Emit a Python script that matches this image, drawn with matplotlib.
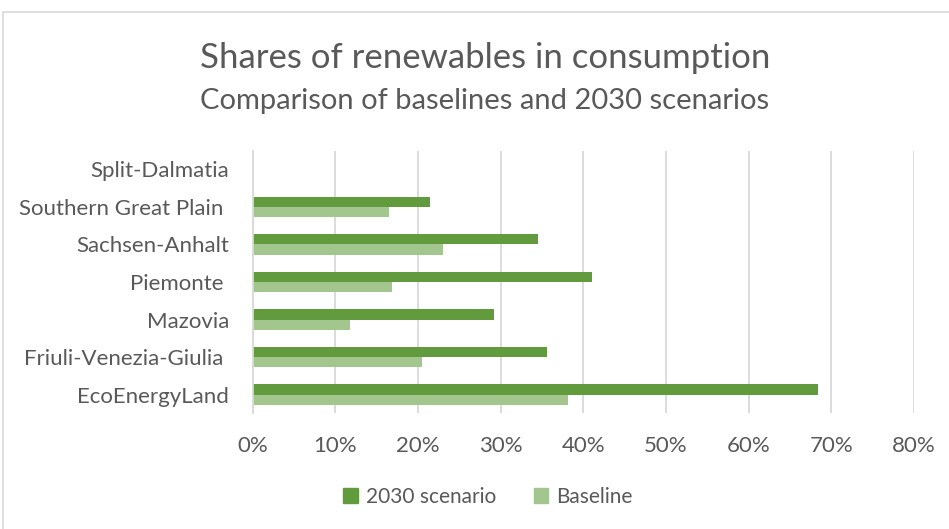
import numpy as np
import matplotlib
matplotlib.use("Agg")
import matplotlib.pyplot as plt
from matplotlib.patches import Rectangle, Patch
from matplotlib.ticker import PercentFormatter

regions = ["Split-Dalmatia", "Southern Great Plain ", "Sachsen-Anhalt", "Piemonte ",
           "Mazovia", "Friuli-Venezia-Giulia ", "EcoEnergyLand"]
scenario_2030 = [np.nan, 21.4, 34.5, 41.0, 29.2, 35.6, 68.4]
baseline = [np.nan, 16.5, 23.0, 16.9, 11.8, 20.5, 38.1]
x_ticks = [0, 10, 20, 30, 40, 50, 60, 70, 80]

dark_green = "#629A3E"
light_green = "#A3C58E"
text_grey = "#595959"
grid_grey = "#D9D9D9"

plt.rcParams["font.family"] = ["Lato", "DejaVu Sans"]

W, H = 949, 529
fig = plt.figure(figsize=(W / 100, H / 100), dpi=100)

# outer chart frame
fig.patches.append(Rectangle((3 / W, -0.1), 1.2, 1.1 - 12 / H, transform=fig.transFigure,
                             fill=False, edgecolor=grid_grey, linewidth=1.2))

left, right = 252.7, 914.0
top, bottom = 150.7, 413.3
ax = fig.add_axes([left / W, 1 - bottom / H, (right - left) / W, (bottom - top) / H])

y = np.arange(len(regions))
h = 0.27
ax.barh(y - h / 2, scenario_2030, height=h, color=dark_green, label="2030 scenario")
ax.barh(y + h / 2, baseline, height=h, color=light_green, label="Baseline")

ax.set_ylim(len(regions) - 0.5, -0.5)
ax.set_xlim(0, 80)
ax.set_xticks(x_ticks)
ax.xaxis.set_major_formatter(PercentFormatter(decimals=0))
ax.set_yticks(y)
ax.set_yticklabels(regions)
ax.tick_params(axis="both", length=0, colors=text_grey, labelsize=16)
ax.tick_params(axis="x", pad=16)
ax.tick_params(axis="y", pad=17)
ax.grid(axis="x", color=grid_grey, linewidth=1.3)
ax.set_axisbelow(True)
for side in ["top", "right", "bottom"]:
    ax.spines[side].set_visible(False)
ax.spines["left"].set_color(grid_grey)
ax.spines["left"].set_linewidth(1.3)

fig.text(485 / W, 1 - 58 / H, "Shares of renewables in consumption", ha="center", va="center",
         fontsize=25, color=text_grey)
fig.text(485 / W, 1 - 101 / H, "Comparison of baselines and 2030 scenarios", ha="center",
         va="center", fontsize=21, color=text_grey)

handles = [Patch(color=dark_green, label="2030 scenario"), Patch(color=light_green, label="Baseline")]
fig.legend(handles=handles, loc="center", bbox_to_anchor=(488 / W, 1 - 497 / H), ncol=2,
           frameon=False, fontsize=15, labelcolor=text_grey, handlelength=0.7, handleheight=0.7,
           handletextpad=0.4, columnspacing=1.8)

fig.savefig("out.png", dpi=100)
